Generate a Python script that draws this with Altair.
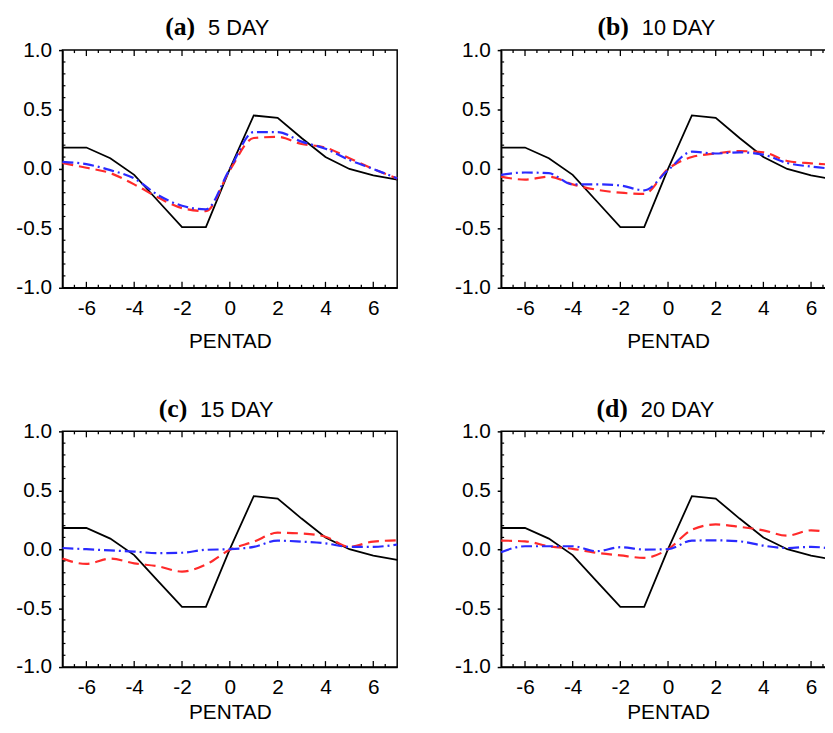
import altair as alt
import pandas as pd

# ---------------- data ----------------
pentad = [-7, -6, -5, -4, -3, -2, -1, 0, 1, 2, 3, 4, 5, 6, 7]

# observed composite (black solid) - same in all panels
obs = [0.18, 0.18, 0.09, -0.05, -0.27, -0.49, -0.49, 0.0, 0.45, 0.43, 0.26, 0.10, 0.0, -0.055, -0.09]

# red dashed series per panel
red_5 = [0.05, 0.01, -0.035, -0.13, -0.24, -0.33, -0.355, -0.01, 0.26, 0.27, 0.21, 0.18, 0.09, 0.0, -0.08]
red_10 = [-0.065, -0.09, -0.065, -0.13, -0.175, -0.20, -0.21, 0.0, 0.10, 0.13, 0.15, 0.14, 0.067, 0.047, 0.035]
red_15 = [-0.08, -0.125, -0.08, -0.12, -0.145, -0.19, -0.13, -0.005, 0.064, 0.14, 0.134, 0.106, 0.02, 0.065, 0.075]
red_20 = [0.073, 0.067, 0.025, 0.003, -0.03, -0.053, -0.073, 0.0, 0.165, 0.21, 0.19, 0.16, 0.115, 0.16, 0.13]

# blue dash-dot series per panel
blue_5 = [0.06, 0.04, -0.01, -0.08, -0.22, -0.31, -0.34, 0.0, 0.31, 0.31, 0.23, 0.17, 0.075, 0.0, -0.08]
blue_10 = [-0.05, -0.03, -0.036, -0.13, -0.13, -0.14, -0.18, -0.01, 0.145, 0.13, 0.14, 0.12, 0.05, 0.02, 0.0]
blue_15 = [0.01, 0.0, -0.01, -0.02, -0.034, -0.03, -0.005, 0.0, 0.02, 0.073, 0.064, 0.05, 0.02, 0.02, 0.04]
blue_20 = [-0.025, 0.025, 0.025, 0.025, -0.017, 0.017, -0.003, 0.0, 0.073, 0.075, 0.067, 0.03, 0.01, 0.02, 0.0]

panel_labels = ["(a)", "(b)", "(c)", "(d)"]
panel_titles = ["5 DAY", "10 DAY", "15 DAY", "20 DAY"]
red_series = [red_5, red_10, red_15, red_20]
blue_series = [blue_5, blue_10, blue_15, blue_20]

x_labels = [-6, -4, -2, 0, 2, 4, 6]
x_minor = [-6.5, -6, -5.5, -5, -4.5, -4, -3.5, -3, -2.5, -2, -1.5, -1, -0.5, 0,
           0.5, 1, 1.5, 2, 2.5, 3, 3.5, 4, 4.5, 5, 5.5, 6, 6.5]
y_labels = [-1.0, -0.5, 0.0, 0.5, 1.0]
y_minor = [-0.9, -0.8, -0.7, -0.6, -0.4, -0.3, -0.2, -0.1,
           0.1, 0.2, 0.3, 0.4, 0.6, 0.7, 0.8, 0.9]

SANS = "Liberation Sans"
SERIF = "Liberation Serif"
split_pos = [140, 135, 132, 134]

xs = alt.Scale(domain=[-7, 7], nice=False, zero=False)
ys = alt.Scale(domain=[-1, 1], nice=False, zero=False)


def make_xaxis(title_pad):
    return alt.Axis(values=x_labels, title="PENTAD", tickSize=0, labelPadding=10,
                    titlePadding=title_pad, grid=False, labelFont=SANS, labelFontSize=21,
                    titleFont=SANS, titleFontSize=21, titleFontWeight="normal",
                    labelColor="black", titleColor="black", domainColor="black",
                    domainWidth=1.5, labelFlush=False,
                    labelExpr="(datum.value < 0 ? '-' : '') + format(abs(datum.value), 'd')")


yaxis = alt.Axis(values=y_labels, title=None, tickSize=4,
                 tickWidth=1.5, tickColor="black", labelPadding=7, grid=False,
                 labelFont=SANS, labelFontSize=21, labelColor="black",
                 domainColor="black", domainWidth=1.5,
                 labelExpr="(datum.value < 0 ? '-' : '') + format(abs(datum.value), '.1f')")


def panel(i, W, H, title_pad):
    xaxis = make_xaxis(title_pad)

    def X(field):
        return alt.X(field, scale=xs, axis=xaxis, title="PENTAD")

    def Y(field):
        return alt.Y(field, scale=ys, axis=yaxis, title=None)

    df = pd.DataFrame({"pentad": pentad, "obs": obs,
                       "red": red_series[i], "blue": blue_series[i]})
    base = alt.Chart(df)

    black = base.mark_line(color="black", strokeWidth=1.8).encode(
        x=X("pentad:Q"), y=Y("obs:Q"))
    redl = base.mark_line(color="#ff2a2a", strokeWidth=2.2, strokeDash=[11, 6],
                          interpolate="monotone").encode(x=X("pentad:Q"), y=Y("red:Q"))
    bluel = base.mark_line(color="#2a2aff", strokeWidth=2.2, strokeDash=[11, 4, 2, 4],
                           interpolate="monotone").encode(x=X("pentad:Q"), y=Y("blue:Q"))

    tdf = pd.DataFrame({"pentad": x_minor,
                        "len": [6 if (v in x_labels) else 3 for v in x_minor]})
    tick_base = alt.Chart(tdf)
    rule = dict(color="black", strokeWidth=1.3)
    top_major = tick_base.transform_filter("datum.len == 6").mark_rule(**rule).encode(
        x=X("pentad:Q"), y=alt.value(0), y2=alt.value(6))
    top_minor = tick_base.transform_filter("datum.len == 3").mark_rule(**rule).encode(
        x=X("pentad:Q"), y=alt.value(0), y2=alt.value(3))
    bot_major = tick_base.transform_filter("datum.len == 6").mark_rule(**rule).encode(
        x=X("pentad:Q"), y=alt.value(H), y2=alt.value(H - 6))
    bot_minor = tick_base.transform_filter("datum.len == 3").mark_rule(**rule).encode(
        x=X("pentad:Q"), y=alt.value(H), y2=alt.value(H - 3))

    ydf = pd.DataFrame({"obs": y_minor})
    y_min = alt.Chart(ydf).mark_rule(color="black", strokeWidth=1.2).encode(
        y=Y("obs:Q"), x=alt.value(0), x2=alt.value(3))

    ldf = pd.DataFrame({"lab": [panel_labels[i]], "tit": [panel_titles[i]]})
    lab = alt.Chart(ldf).mark_text(font=SERIF, fontWeight="bold", fontSize=26,
                                   align="right", baseline="alphabetic", color="black").encode(
        x=alt.value(split_pos[i] - 6), y=alt.value(-15), text="lab:N")
    tit = alt.Chart(ldf).mark_text(font=SANS, fontSize=22, align="left",
                                   baseline="alphabetic", color="black").encode(
        x=alt.value(split_pos[i] + 7), y=alt.value(-15), text="tit:N")

    return alt.layer(black, redl, bluel, top_major, top_minor, bot_major, bot_minor,
                     y_min, lab, tit).properties(width=W, height=H)


row1 = alt.hconcat(panel(0, 338, 240, 12), panel(1, 337, 240, 12), spacing=51)
row2 = alt.hconcat(panel(2, 338, 238, 4), panel(3, 337, 238, 4), spacing=51)
chart = alt.vconcat(row1, row2, spacing=43).properties(
    autosize=alt.AutoSizeParams(type="none"),
    padding={"left": 55, "top": 39, "right": 770, "bottom": 678},
    background="white",
).configure_view(stroke="black", strokeWidth=1.5)

chart.save("out.html", embed_options={"renderer": "svg", "actions": False})
